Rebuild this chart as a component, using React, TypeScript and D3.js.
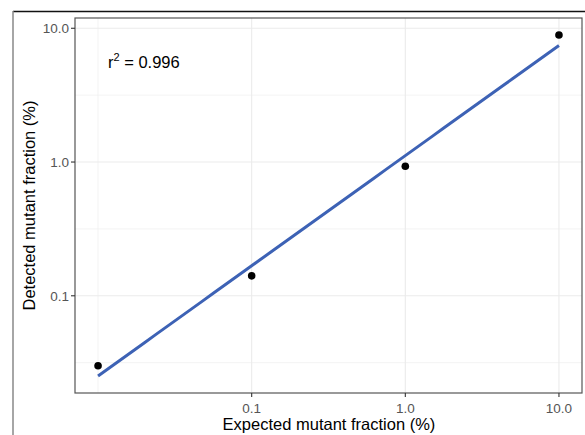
import React from "react";
import * as d3 from "d3";

const expected = [0.01, 0.1, 1, 10];
const detected = [0.03, 0.141, 0.93, 8.9];
const xTicks = [0.1, 1, 10];
const xTickLabels = ["0.1", "1.0", "10.0"];
const yTicks = [0.1, 1, 10];
const yTickLabels = ["0.1", "1.0", "10.0"];
const xMinor = [0.01];
const yMinor = [Math.pow(10, -1.5), Math.pow(10, -0.5), Math.pow(10, 0.5)];
const r2Label = "0.996";

export default function App() {
  const W = 585, H = 435;
  const L = 75, T = 18, R = 582, B = 393;

  const lx = expected.map(Math.log10);
  const ly = detected.map(Math.log10);
  const mx = d3.mean(lx)!;
  const my = d3.mean(ly)!;
  const slope = d3.sum(lx.map((v, i) => (v - mx) * (ly[i] - my))) / d3.sum(lx.map(v => (v - mx) ** 2));
  const icpt = my - slope * mx;
  const fit = (x: number) => Math.pow(10, icpt + slope * Math.log10(x));
  const x0 = d3.min(expected)!, x1 = d3.max(expected)!;
  const fitPts: [number, number][] = d3.range(0, 41).map(i => {
    const lxv = Math.log10(x0) + (Math.log10(x1) - Math.log10(x0)) * i / 40;
    const xv = Math.pow(10, lxv);
    return [xv, fit(xv)];
  });

  const xlo = Math.log10(x0), xhi = Math.log10(x1);
  const xe = (xhi - xlo) * 0.05;
  const x = d3.scaleLog().domain([Math.pow(10, xlo - xe), Math.pow(10, xhi + xe)]).range([L, R]);
  const yAll = [...detected, ...fitPts.map(p => p[1])].map(Math.log10);
  const ylo = d3.min(yAll)!, yhi = d3.max(yAll)!;
  const ye = (yhi - ylo) * 0.05;
  const y = d3.scaleLog().domain([Math.pow(10, ylo - ye), Math.pow(10, yhi + ye)]).range([B, T]);

  const line = d3.line<[number, number]>().x(d => x(d[0])).y(d => y(d[1]));
  const font = "Liberation Sans, Arial, sans-serif";

  return (
    <svg width={W} height={H} style={{ position: "absolute", left: 0, top: 0 }} fontFamily={font}>
      <rect width={W} height={H} fill="#fff" />
      <line x1={13} x2={W} y1={11.5} y2={11.5} stroke="#111" strokeWidth={1.5} />
      <line x1={13} x2={13} y1={11} y2={H} stroke="#888" strokeWidth={1.5} />
      <rect x={L} y={T} width={R - L} height={B - T} fill="#fff" />
      {yMinor.map((v, i) => (
        <line key={"ym" + i} x1={L} x2={R} y1={y(v)} y2={y(v)} stroke="#f0f0f0" strokeWidth={0.8} />
      ))}
      {xMinor.map((v, i) => (
        <line key={"xm" + i} x1={x(v)} x2={x(v)} y1={T} y2={B} stroke="#f0f0f0" strokeWidth={0.8} />
      ))}
      {yTicks.map((v, i) => (
        <line key={"yg" + i} x1={L} x2={R} y1={y(v)} y2={y(v)} stroke="#ebebeb" strokeWidth={1.1} />
      ))}
      {xTicks.map((v, i) => (
        <line key={"xg" + i} x1={x(v)} x2={x(v)} y1={T} y2={B} stroke="#ebebeb" strokeWidth={1.1} />
      ))}
      <path d={line(fitPts)!} fill="none" stroke="#3d62b5" strokeWidth={3} />
      {expected.map((v, i) => (
        <circle key={"p" + i} cx={x(v)} cy={y(detected[i])} r={3.8} fill="#000" />
      ))}
      <rect x={L} y={T} width={R - L} height={B - T} fill="none" stroke="#555" strokeWidth={1.2} />
      {yTicks.map((v, i) => (
        <g key={"yt" + i}>
          <line x1={L - 4} x2={L} y1={y(v)} y2={y(v)} stroke="#333" strokeWidth={1.1} />
          <text x={L - 6} y={y(v)} dy="0.35em" textAnchor="end" fontSize={13.5} fill="#555">{yTickLabels[i]}</text>
        </g>
      ))}
      {xTicks.map((v, i) => (
        <g key={"xt" + i}>
          <line x1={x(v)} x2={x(v)} y1={B} y2={B + 4} stroke="#333" strokeWidth={1.1} />
          <text x={x(v)} y={B + 15} dy="0.35em" textAnchor="middle" fontSize={13.5} fill="#555">{xTickLabels[i]}</text>
        </g>
      ))}
      <text x={(L + R) / 2 + 0.5} y={430} textAnchor="middle" fontSize={16.5} fill="#000">Expected mutant fraction (%)</text>
      <text transform={`translate(35,${(T + B) / 2}) rotate(-90)`} textAnchor="middle" fontSize={16.5} fill="#000">Detected mutant fraction (%)</text>
      <text x={108} y={68} fontSize={16.5} fill="#000">
        r<tspan fontSize={11} dy={-7}>2</tspan><tspan dy={7}> = {r2Label}</tspan>
      </text>
    </svg>
  );
}
